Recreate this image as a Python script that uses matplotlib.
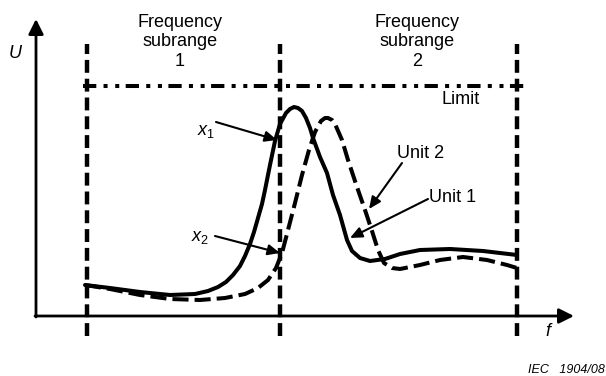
import matplotlib
matplotlib.use('Agg')
import matplotlib.pyplot as plt

plt.rcParams['font.family'] = ['Liberation Sans', 'DejaVu Sans']
plt.rcParams['mathtext.fontset'] = 'custom'
plt.rcParams['mathtext.it'] = 'Liberation Sans:italic'
plt.rcParams['mathtext.rm'] = 'Liberation Sans'

# Unit 1 (solid), in plot units (f, U)
unit1_f = [49, 74, 104, 134, 159, 172, 182, 190, 197, 204, 209, 214, 218, 222, 226, 229, 234, 239,
           244, 250, 254, 258, 262, 266, 270, 274, 277, 284, 291, 297, 304, 311, 316, 324, 334,
           349, 364, 384, 414, 447, 481]
unit1_u = [31, 28, 24, 21, 22, 25, 29, 34, 41, 50, 60, 72, 84, 98, 112, 126, 151, 175,
           192, 203, 207, 209, 208, 205, 198, 188, 178, 159, 143, 121, 101, 76, 65, 58, 55,
           57, 62, 66, 67, 65, 61]

# Unit 2 (dashed)
unit2_f = [49, 74, 104, 134, 164, 189, 209, 222, 232, 240, 246, 252, 259, 266, 273, 279, 285,
           289, 292, 296, 299, 306, 312, 321, 329, 336, 342, 348, 356, 364, 384, 404, 427, 451,
           471, 481]
unit2_u = [31, 27, 21, 17, 16, 18, 22, 28, 36, 48, 63, 86, 113, 141, 166, 184, 195,
           198, 198, 196, 192, 176, 156, 129, 106, 85, 66, 53, 48, 47, 51, 56, 59, 56,
           51, 48]

subrange_edges = [51, 244, 481]
subrange_label_f = [144, 381]
subrange_labels = ['Frequency\nsubrange\n1', 'Frequency\nsubrange\n2']
limit_u = 230
limit_span = [47, 492]

fig = plt.figure(figsize=(6.06, 3.76), dpi=100)
ax = fig.add_axes([0, 0, 1, 1])
ax.set_xlim(-36, 570)
ax.set_ylim(-60, 316)
ax.axis('off')

black = 'black'
axis_arrow = dict(arrowstyle='-|>,head_length=0.6,head_width=0.3', mutation_scale=15,
                  lw=2, color=black, shrinkA=0, shrinkB=0)
ax.annotate('', xy=(0, 297), xytext=(0, -1), arrowprops=axis_arrow)
ax.annotate('', xy=(538, 0), xytext=(-1, 0), arrowprops=axis_arrow)

ax.vlines(subrange_edges, -20, 272, colors=black, lw=3.2, linestyles=(0, (2.9, 1.33)))
ax.plot(limit_span, [limit_u, limit_u], color=black, lw=2.9,
        dashes=(3.3, 1.8, 1, 1.9, 1, 1.6))

ax.plot(unit1_f, unit1_u, color=black, lw=2.9, solid_joinstyle='round', solid_capstyle='round')
ax.plot(unit2_f, unit2_u, color=black, lw=2.9, dashes=(4, 1.5))

for fx, lab in zip(subrange_label_f, subrange_labels):
    ax.text(fx, 274, lab, ha='center', va='center', fontsize=13, linespacing=1.2)

ax.text(425, 216, 'Limit', ha='center', va='center', fontsize=13)
ax.text(-21, 263, 'U', ha='center', va='center', fontsize=13, style='italic')
ax.text(512, -16, 'f', ha='center', va='center', fontsize=13, style='italic')
ax.text(569, -54, 'IEC   1904/08', ha='right', va='center', fontsize=9, style='italic')

pointer = dict(arrowstyle='-|>,head_length=0.45,head_width=0.2', mutation_scale=16,
               lw=1.5, color=black, shrinkA=0, shrinkB=0)
ax.text(170, 185, r'$x_\mathrm{1}$', ha='center', va='center', fontsize=13)
ax.annotate('', xy=(241, 176), xytext=(180, 194), arrowprops=pointer)
ax.text(164, 78, r'$x_\mathrm{2}$', ha='center', va='center', fontsize=13)
ax.annotate('', xy=(244, 63), xytext=(179, 80), arrowprops=pointer)
ax.text(385, 163, 'Unit 2', ha='center', va='center', fontsize=13)
ax.annotate('', xy=(333, 107), xytext=(366, 153), arrowprops=pointer)
ax.text(417, 119, 'Unit 1', ha='center', va='center', fontsize=13)
ax.annotate('', xy=(314, 78), xytext=(392, 117), arrowprops=pointer)

fig.savefig('out.png', dpi=100)
